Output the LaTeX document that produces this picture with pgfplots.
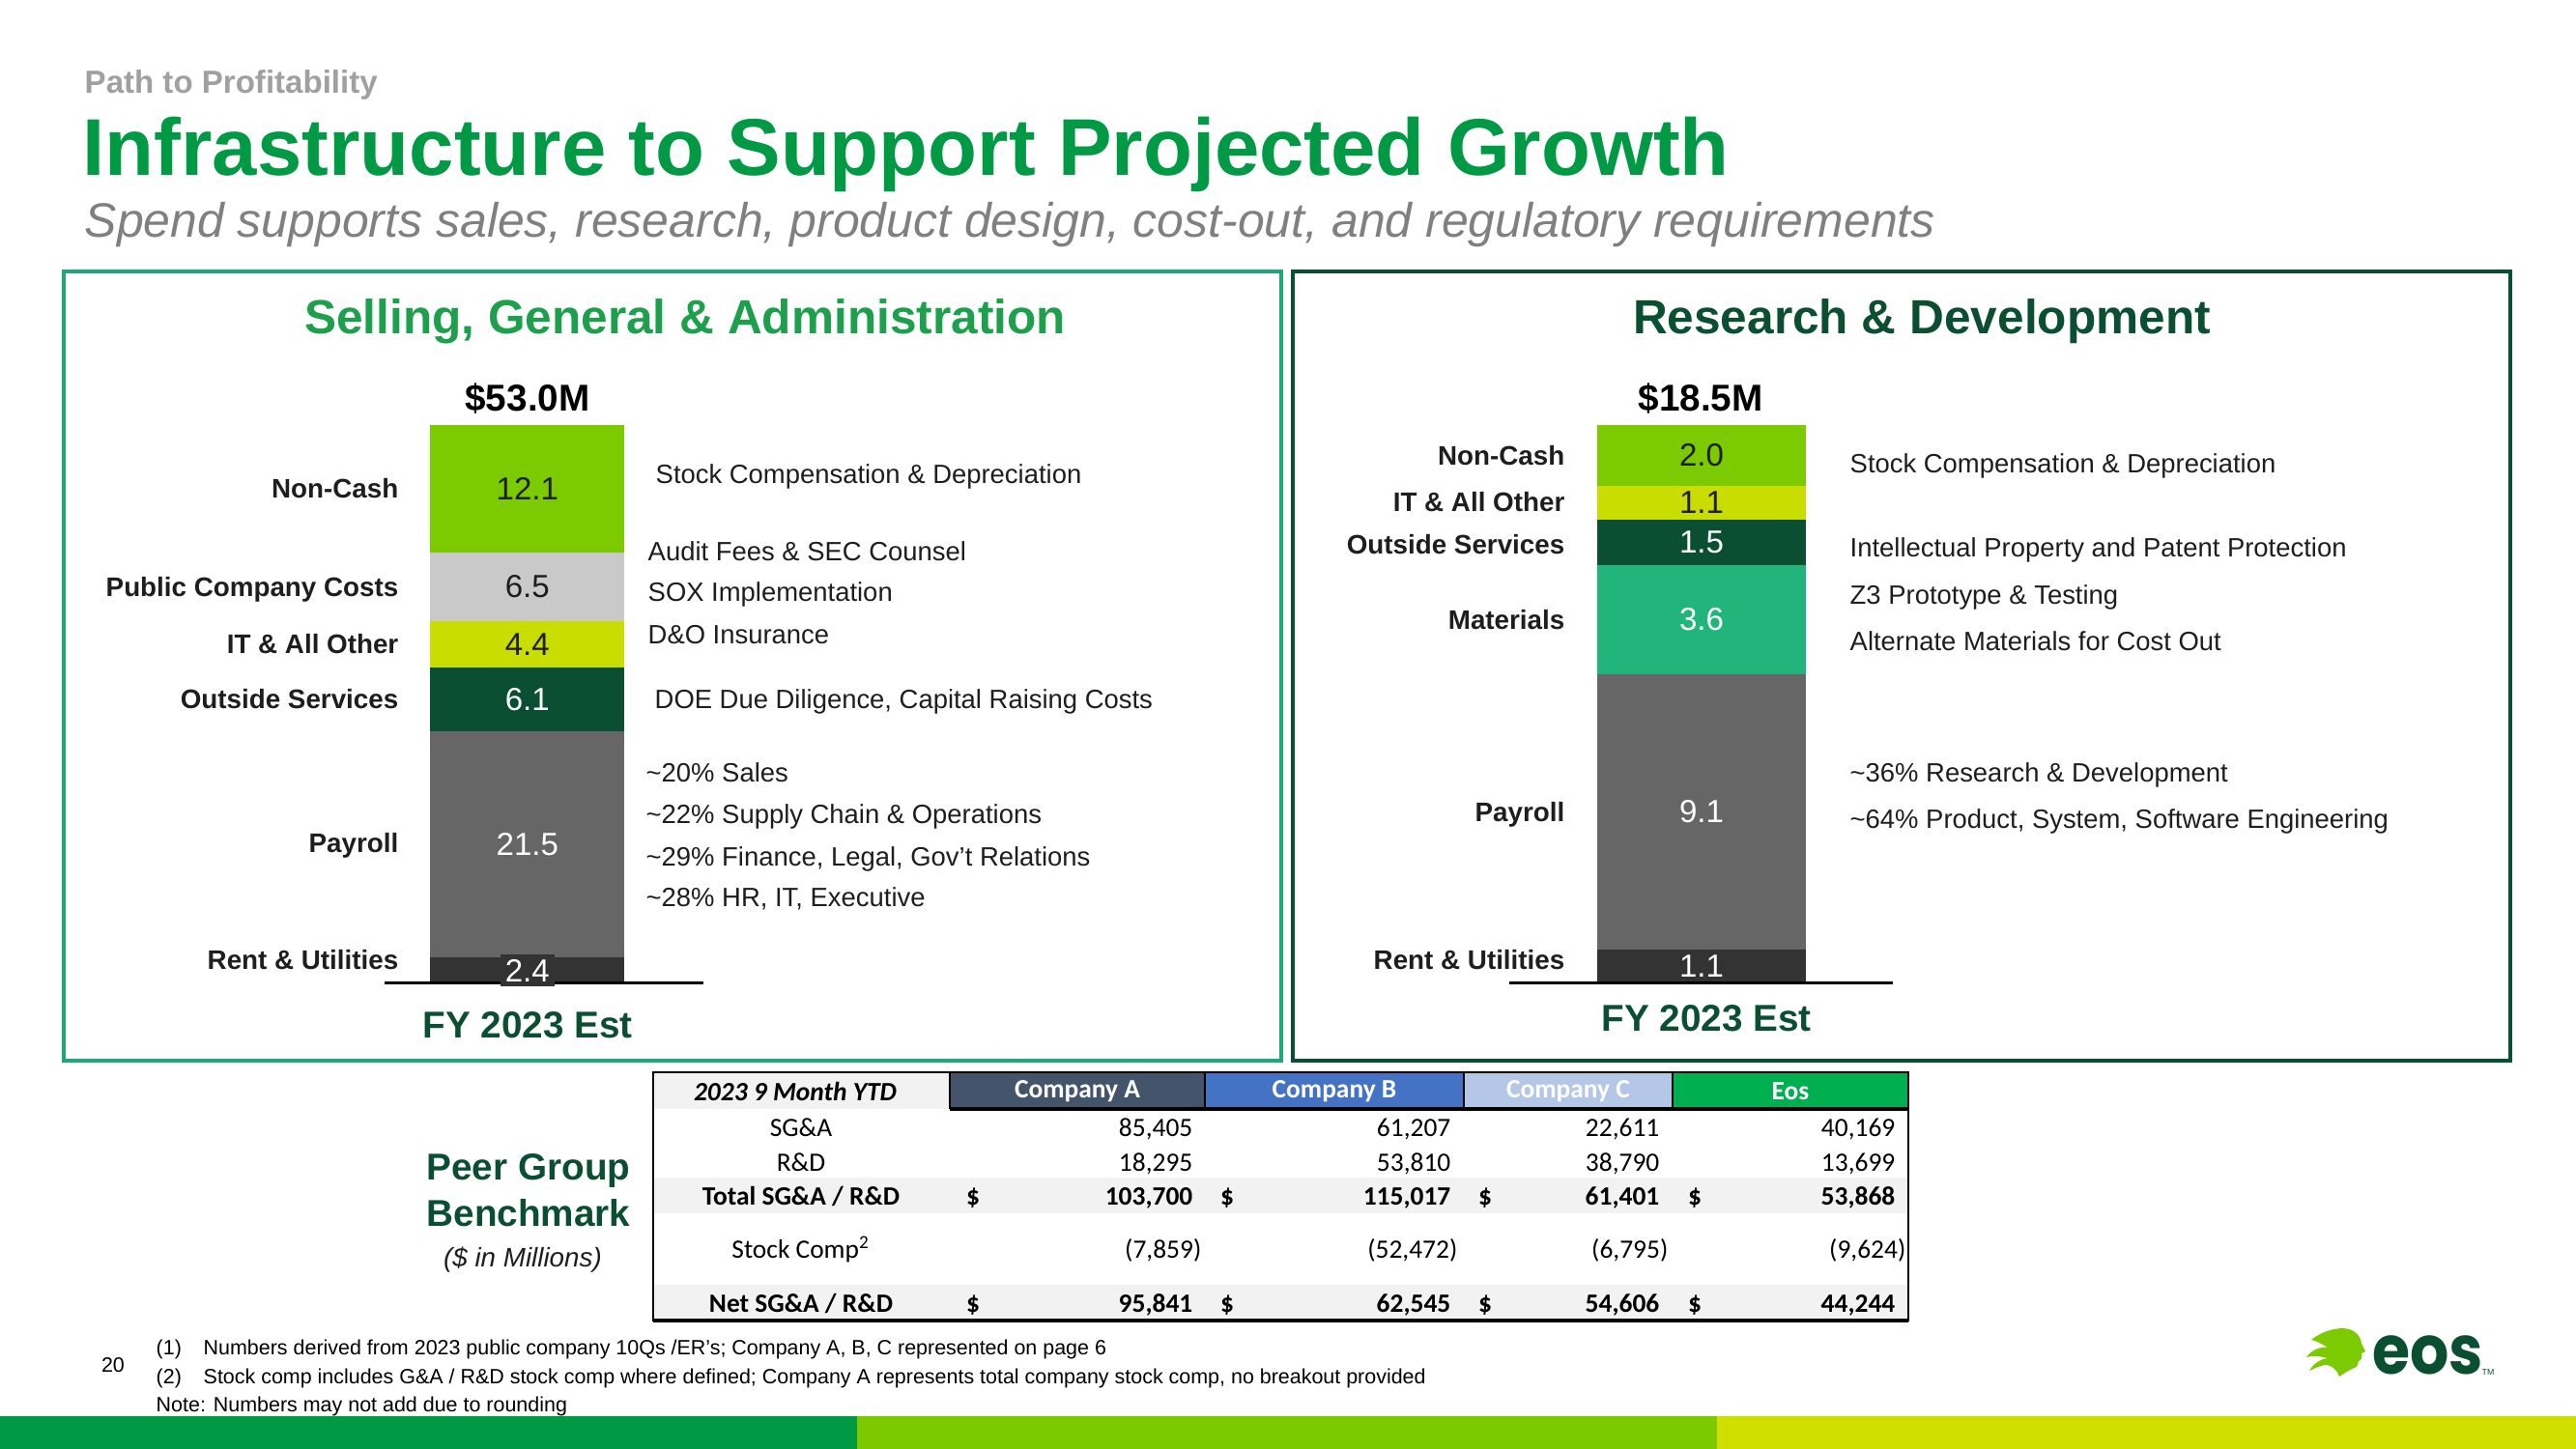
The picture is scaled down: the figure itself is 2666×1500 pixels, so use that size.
\documentclass[border=0pt]{standalone}
\usepackage{pgfplots}
\pgfplotsset{compat=1.18}
\usepackage{fontspec}
\setmainfont{Liberation Sans}
\newfontfamily\calibri{Carlito}
\newfontfamily\logofont{Poppins}
\definecolor{eosgreen}{RGB}{0,154,68}
\definecolor{sgagreen}{RGB}{28,160,76}
\definecolor{tealb}{RGB}{30,168,118}
\definecolor{dkgreen}{RGB}{11,79,51}
\definecolor{limeg}{RGB}{124,202,0}
\definecolor{yellowg}{RGB}{202,221,0}
\definecolor{lgray}{RGB}{201,201,201}
\definecolor{payroll}{RGB}{102,102,102}
\definecolor{rent}{RGB}{51,51,51}
\definecolor{matgreen}{RGB}{33,181,124}
\definecolor{subgray}{RGB}{128,128,128}
\definecolor{pathgray}{RGB}{160,160,160}
\definecolor{txt}{RGB}{30,30,30}
\definecolor{compA}{RGB}{68,84,106}
\definecolor{compB}{RGB}{68,114,196}
\definecolor{compC}{RGB}{180,199,231}
\definecolor{eosT}{RGB}{0,176,80}
\definecolor{band}{RGB}{242,242,242}
\definecolor{bar1}{RGB}{0,154,68}
\definecolor{bar2}{RGB}{125,201,0}
\definecolor{bar3}{RGB}{208,222,0}
\newcommand{\lab}{\fontsize{7.9}{9.5}\selectfont\bfseries}
\newcommand{\ann}{\fontsize{7.8}{9.5}\selectfont}
\newcommand{\barvalfont}{\fontsize{9.4}{11}\selectfont}
\newcommand{\tot}{\fontsize{11}{13}\selectfont\bfseries}
\newcommand{\tbl}{\calibri\fontsize{7.8}{9.4}\selectfont}
\newcommand{\ftn}{\fontsize{6.1}{7.3}\selectfont}
\begin{document}
\begin{tikzpicture}
\begin{scope}[x=0.01cm,y=-0.01cm,yshift=15cm]
\fill[white] (0,0) rectangle (2666,1500);
% titles
\node[anchor=base west, inner sep=0, text=pathgray, font=\fontsize{9.4}{11}\selectfont\bfseries] at (87,97) {Path to Profitability};
\node[anchor=base west, inner sep=0, text=eosgreen, font=\fontsize{23.7}{28}\selectfont\bfseries] at (85,182) {Infrastructure to Support Projected Growth};
\node[anchor=base west, inner sep=0, text=subgray, font=\fontsize{14.2}{17}\selectfont\itshape] at (87,246) {Spend supports sales, research, product design, cost-out, and regulatory requirements};
% boxes
\draw[tealb, line width=0.35mm] (66,281) rectangle (1326,1098);
\draw[dkgreen, line width=0.35mm] (1338,281) rectangle (2598,1098);
\node[text=sgagreen, font=\fontsize{14.1}{17}\selectfont\bfseries] at (709,333) {Selling, General \& Administration};
\node[text=dkgreen, font=\fontsize{14.1}{17}\selectfont\bfseries] at (1989,333) {Research \& Development};
\node[font=\tot] at (546,413) {\$53.0M};
\node[font=\tot] at (1760,413) {\$18.5M};
\node[font=\tot, text=dkgreen] at (546,1061) {FY 2023 Est};
\node[font=\tot, text=dkgreen] at (1766,1054) {FY 2023 Est};
% labels
\begin{scope}[every node/.style={anchor=mid east, inner sep=0, font=\lab, text=txt}]
\node at (413,506) {Non-Cash};
\node at (413,608) {Public Company Costs};
\node at (413,667) {IT \& All Other};
\node at (413,724) {Outside Services};
\node at (413,873) {Payroll};
\node at (413,994) {Rent \& Utilities};
\node at (1620,472) {Non-Cash};
\node at (1620,520) {IT \& All Other};
\node at (1620,564) {Outside Services};
\node at (1620,642) {Materials};
\node at (1620,841) {Payroll};
\node at (1620,994) {Rent \& Utilities};
\end{scope}
\begin{scope}[every node/.style={anchor=mid west, inner sep=0, font=\ann, text=txt}]
\node at (678,491) {Stock Compensation \& Depreciation};
\node at (670,571) {Audit Fees \& SEC Counsel};
\node at (670,613) {SOX Implementation};
\node at (670,657) {D\&O Insurance};
\node at (677,724) {DOE Due Diligence, Capital Raising Costs};
\node at (668,800) {\char`~20\% Sales};
\node at (668,843) {\char`~22\% Supply Chain \& Operations};
\node at (668,887) {\char`~29\% Finance, Legal, Gov’t Relations};
\node at (668,929) {\char`~28\% HR, IT, Executive};
\node at (1914,480) {Stock Compensation \& Depreciation};
\node at (1914,567) {Intellectual Property and Patent Protection};
\node at (1914,616) {Z3 Prototype \& Testing};
\node at (1914,664) {Alternate Materials for Cost Out};
\node at (1914,800) {\char`~36\% Research \& Development};
\node at (1914,848) {\char`~64\% Product, System, Software Engineering};
\end{scope}
% peer group
\node[text=dkgreen, font=\fontsize{11}{13}\selectfont\bfseries] at (547,1212) {Peer Group};
\node[text=dkgreen, font=\fontsize{11}{13}\selectfont\bfseries] at (547,1256) {Benchmark};
\node[text=txt, font=\fontsize{7.9}{9.5}\selectfont\itshape] at (541,1304) {(\$ in Millions)};
% table
\fill[band] (676,1110) rectangle (983,1148);
\fill[compA] (983,1110) rectangle (1247,1148);
\fill[compB] (1247,1110) rectangle (1515,1148);
\fill[compC] (1515,1110) rectangle (1731,1148);
\fill[eosT] (1731,1110) rectangle (1975,1148);
\fill[band] (676,1219) rectangle (1975,1256);
\fill[band] (676,1330) rectangle (1975,1367);
\draw[line width=0.12mm] (983,1110)--(983,1148) (1247,1110)--(1247,1148) (1515,1110)--(1515,1148) (1731,1110)--(1731,1148);
\draw[line width=0.25mm] (676,1110) rectangle (1975,1367);
\draw[line width=0.4mm] (983,1148) -- (1975,1148);
\draw[line width=0.4mm] (676,1367) -- (1975,1367);
\node[font=\tbl\bfseries\itshape] at (823,1130) {2023 9 Month YTD};
\node[font=\tbl\bfseries, text=white] at (1115,1130) {Company A};
\node[font=\tbl\bfseries, text=white] at (1381,1130) {Company B};
\node[font=\tbl\bfseries, text=white] at (1623,1130) {Company C};
\node[font=\tbl\bfseries, text=white] at (1853,1130) {Eos};
\begin{scope}[every node/.style={font=\tbl, anchor=mid}]
\node at (829,1167) {SG\&A};
\node at (829,1203) {R\&D};
\node[font=\tbl\bfseries] at (829,1238) {Total SG\&A / R\&D};
\node at (829,1293) {Stock Comp\textsuperscript{2}};
\node[font=\tbl\bfseries] at (829,1349) {Net SG\&A / R\&D};
\end{scope}
\begin{scope}[every node/.style={font=\tbl, anchor=mid east, inner sep=0}]
\node at (1235,1167) {85,405}; \node at (1502,1167) {61,207}; \node at (1718,1167) {22,611}; \node at (1962,1167) {40,169};
\node at (1235,1203) {18,295}; \node at (1502,1203) {53,810}; \node at (1718,1203) {38,790}; \node at (1962,1203) {13,699};
\node[font=\tbl\bfseries] at (1235,1238) {103,700}; \node[font=\tbl\bfseries] at (1502,1238) {115,017}; \node[font=\tbl\bfseries] at (1718,1238) {61,401}; \node[font=\tbl\bfseries] at (1962,1238) {53,868};
\node at (1244,1293) {(7,859)}; \node at (1509,1293) {(52,472)}; \node at (1727,1293) {(6,795)}; \node at (1973,1293) {(9,624)};
\node[font=\tbl\bfseries] at (1235,1349) {95,841}; \node[font=\tbl\bfseries] at (1502,1349) {62,545}; \node[font=\tbl\bfseries] at (1718,1349) {54,606}; \node[font=\tbl\bfseries] at (1962,1349) {44,244};
\end{scope}
\begin{scope}[every node/.style={font=\tbl\bfseries, anchor=mid}]
\node at (1007,1238) {\$}; \node at (1270,1238) {\$}; \node at (1537,1238) {\$}; \node at (1754,1238) {\$};
\node at (1007,1349) {\$}; \node at (1270,1349) {\$}; \node at (1537,1349) {\$}; \node at (1754,1349) {\$};
\end{scope}
% footnotes
\node[font=\ftn, anchor=mid] at (117,1411) {20};
\begin{scope}[every node/.style={font=\ftn, anchor=mid west, inner sep=0}]
\node at (161,1393) {(1)};
\node at (210,1393) {Numbers derived from 2023 public company 10Qs /ER’s; Company A, B, C represented on page 6};
\node at (161,1423) {(2)};
\node at (210,1423) {Stock comp includes G\&A / R\&D stock comp where defined; Company A represents total company stock comp, no breakout provided};
\node at (161,1452) {Note: Numbers may not add due to rounding};
\end{scope}
% bottom bar
\fill[bar1] (0,1466) rectangle (887,1500);
\fill[bar2] (887,1466) rectangle (1777,1500);
\fill[bar3] (1777,1466) rectangle (2666,1500);
% logo
\begin{scope}[shift={(2387,1375)}]
\fill[limeg] (36,0) .. controls (48,0) and (56,6) .. (57,16)
 -- (61,24) -- (57,26)
 .. controls (58,30) and (57,33) .. (54,34)
 -- (52,40) .. controls (46,42) and (40,46) .. (34,50)
 .. controls (32,44) and (28,40) .. (22,38)
 .. controls (14,38) and (8,42) .. (3,44)
 .. controls (8,36) and (14,32) .. (22,31)
 .. controls (14,29) and (6,28) .. (0,30)
 .. controls (6,22) and (14,19) .. (22,20)
 .. controls (16,16) and (10,13) .. (5,12)
 .. controls (14,5) and (24,1) .. (36,0) -- cycle;
\end{scope}
\node[anchor=base west, inner sep=0, text=dkgreen, font=\logofont\fontsize{20}{24}\selectfont\bfseries, xscale=0.9] at (2455,1423) {eos};
\node[anchor=base west, inner sep=0, text=dkgreen, font=\fontsize{2.5}{3}\selectfont] at (2568,1424) {TM};
\end{scope}
% SG&A chart
\begin{axis}[
  at={(3.98cm,4.83cm)}, anchor=south west,
  scale only axis, width=3.30cm, height=5.77cm,
  xmin=398, xmax=728, ymin=0, ymax=53.0,
  hide axis, clip=false,
  ybar stacked, bar width=201, bar shift=0pt,
]
\addplot[draw=none, fill=rent] coordinates {(545.5,2.4)};
\addplot[draw=none, fill=payroll] coordinates {(545.5,21.5)};
\addplot[draw=none, fill=dkgreen] coordinates {(545.5,6.1)};
\addplot[draw=none, fill=yellowg] coordinates {(545.5,4.4)};
\addplot[draw=none, fill=lgray] coordinates {(545.5,6.5)};
\addplot[draw=none, fill=limeg] coordinates {(545.5,12.1)};
\coordinate (sbl) at (axis cs:398,0);
\coordinate (sbr) at (axis cs:728,0);
\coordinate (s1) at (axis cs:545.5,1.2);
\coordinate (s2) at (axis cs:545.5,13.15);
\coordinate (s3) at (axis cs:545.5,26.95);
\coordinate (s4) at (axis cs:545.5,32.2);
\coordinate (s5) at (axis cs:545.5,37.65);
\coordinate (s6) at (axis cs:545.5,46.95);
\end{axis}
\draw[black, line width=0.25mm] (sbl) -- (sbr);
\node[font=\barvalfont, text=white, fill=rent, inner sep=1.5pt] at (s1) {2.4};
\node[font=\barvalfont, text=white] at (s2) {21.5};
\node[font=\barvalfont, text=white] at (s3) {6.1};
\node[font=\barvalfont, text=txt] at (s4) {4.4};
\node[font=\barvalfont, text=txt] at (s5) {6.5};
\node[font=\barvalfont, text=txt] at (s6) {12.1};
% R&D chart
\begin{axis}[
  at={(15.61cm,4.83cm)}, anchor=south west,
  scale only axis, width=3.97cm, height=5.77cm,
  xmin=1561, xmax=1958, ymin=0, ymax=18.4,
  hide axis, clip=false,
  ybar stacked, bar width=216, bar shift=0pt,
]
\addplot[draw=none, fill=rent] coordinates {(1760,1.1)};
\addplot[draw=none, fill=payroll] coordinates {(1760,9.1)};
\addplot[draw=none, fill=matgreen] coordinates {(1760,3.6)};
\addplot[draw=none, fill=dkgreen] coordinates {(1760,1.5)};
\addplot[draw=none, fill=yellowg] coordinates {(1760,1.1)};
\addplot[draw=none, fill=limeg] coordinates {(1760,2.0)};
\coordinate (rbl) at (axis cs:1561,0);
\coordinate (rbr) at (axis cs:1958,0);
\coordinate (r1) at (axis cs:1760,0.55);
\coordinate (r2) at (axis cs:1760,5.65);
\coordinate (r3) at (axis cs:1760,12.0);
\coordinate (r4) at (axis cs:1760,14.55);
\coordinate (r5) at (axis cs:1760,15.85);
\coordinate (r6) at (axis cs:1760,17.4);
\end{axis}
\draw[black, line width=0.25mm] (rbl) -- (rbr);
\node[font=\barvalfont, text=white] at (r1) {1.1};
\node[font=\barvalfont, text=white] at (r2) {9.1};
\node[font=\barvalfont, text=white] at (r3) {3.6};
\node[font=\barvalfont, text=white] at (r4) {1.5};
\node[font=\barvalfont, text=txt] at (r5) {1.1};
\node[font=\barvalfont, text=txt] at (r6) {2.0};
\end{tikzpicture}
\end{document}
